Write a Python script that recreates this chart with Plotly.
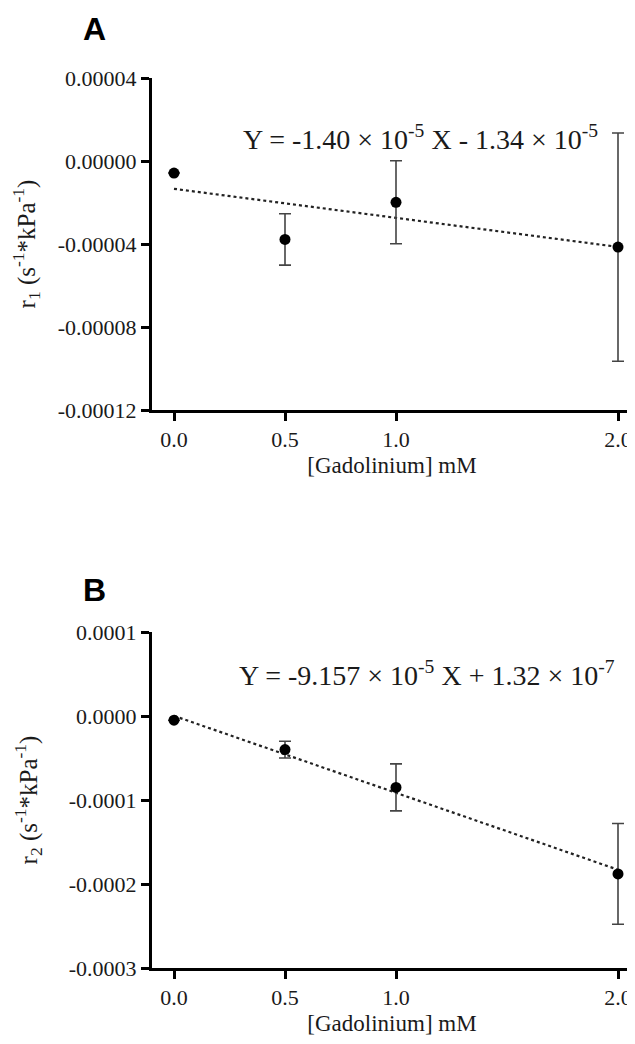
import plotly.graph_objects as go
from plotly.subplots import make_subplots

# ---- data ----
gd_conc = [0.0, 0.5, 1.0, 2.0]

r1_mean = [-0.0000058, -0.0000378, -0.0000199, -0.0000415]
r1_err = [0.0000000, 0.0000124, 0.0000200, 0.0000550]
r1_slope = -1.40e-5
r1_intercept = -1.34e-5

r2_mean = [-0.0000050, -0.0000400, -0.0000850, -0.0001880]
r2_err = [0.0000000, 0.0000100, 0.0000280, 0.0000600]
r2_slope = -9.157e-5
r2_intercept = 1.32e-7

x_tickvals = [0.0, 0.5, 1.0, 2.0]
x_ticktext = ["0.0", "0.5", "1.0", "2.0"]
yA_tickvals = [0.00004, 0.0, -0.00004, -0.00008, -0.00012]
yA_ticktext = ["0.00004", "0.00000", "-0.00004", "-0.00008", "-0.00012"]
yB_tickvals = [0.0001, 0.0, -0.0001, -0.0002, -0.0003]
yB_ticktext = ["0.0001", "0.0000", "-0.0001", "-0.0002", "-0.0003"]

serif = "Liberation Serif"
ink = "#1a1a1a"

fig = make_subplots(rows=2, cols=1)

OFF = 8  # default body margin of the html page
W, H = 635 - OFF, 1044 - 2 * OFF
PL, PR = 152, 632          # plot area left/right in page pixels
PT, PB = 78, 968           # plot stack top/bottom in page pixels
mt, mb = PT - OFF, H - (PB - OFF)
ph = H - mt - mb
pw = PR - PL


def yd(px):
    return (PB - px) / ph


def xd(px):
    return (px - PL) / pw


fit_x = [gd_conc[0], gd_conc[-1]]
panels = [
    (r1_mean, r1_err, r1_slope, r1_intercept, 1),
    (r2_mean, r2_err, r2_slope, r2_intercept, 2),
]
for mean, err, slope, icpt, row in panels:
    fig.add_trace(go.Scatter(
        x=fit_x, y=[slope * v + icpt for v in fit_x], mode="lines",
        line=dict(color="#222", width=2.2, dash="dot"), showlegend=False,
        hoverinfo="skip"), row=row, col=1)
    fig.add_trace(go.Scatter(
        x=gd_conc, y=mean, mode="markers",
        marker=dict(color="black", size=11),
        error_y=dict(type="data", array=err, visible=True, color="#444",
                     thickness=1.6, width=6),
        showlegend=False), row=row, col=1)

axis_common = dict(showline=True, linecolor="black", linewidth=3,
                   ticks="outside", tickwidth=3, ticklen=8, tickcolor="black",
                   showgrid=False, zeroline=False,
                   tickfont=dict(family=serif, size=22, color=ink))

xr = [(PL - 174) / 222, (PR - 174) / 222]
fig.update_xaxes(range=xr, tickvals=x_tickvals, ticktext=x_ticktext, **axis_common)
for r in (1, 2):
    fig.update_xaxes(title=dict(text="[Gadolinium] mM",
                                font=dict(family=serif, size=23, color=ink),
                                standoff=6), row=r, col=1)

fig.update_yaxes(range=[-0.00012, 0.00004], tickvals=yA_tickvals, ticktext=yA_ticktext,
                 title=dict(text="r<sub>1</sub> (s<sup>-1</sup>*kPa<sup>-1</sup>)",
                            font=dict(family=serif, size=25, color=ink), standoff=25),
                 row=1, col=1, **axis_common)
fig.update_yaxes(range=[-0.0003, 0.0001], tickvals=yB_tickvals, ticktext=yB_ticktext,
                 title=dict(text="r<sub>2</sub> (s<sup>-1</sup>*kPa<sup>-1</sup>)",
                            font=dict(family=serif, size=25, color=ink), standoff=25),
                 row=2, col=1, **axis_common)

fig.update_layout(
    width=W, height=H,
    margin=dict(l=PL - OFF, r=W - (PR - OFF), t=mt, b=mb),
    paper_bgcolor="white", plot_bgcolor="white",
    xaxis=dict(domain=[0, 1], anchor="y"),
    yaxis=dict(domain=[yd(410), 1.0]),
    xaxis2=dict(domain=[0, 1], anchor="y2"),
    yaxis2=dict(domain=[0, yd(632)]),
)

# equation annotations
fig.add_annotation(xref="paper", yref="paper", x=xd(420), y=yd(118),
                   text="Y = -1.40 × 10<sup>-5</sup> X - 1.34 × 10<sup>-5</sup>",
                   showarrow=False, font=dict(family=serif, size=28, color=ink))
fig.add_annotation(xref="paper", yref="paper", x=xd(427), y=yd(693),
                   text="Y = -9.157 × 10<sup>-5</sup> X + 1.32 × 10<sup>-7</sup>",
                   showarrow=False, font=dict(family=serif, size=28, color=ink))
# panel letters
fig.add_annotation(xref="paper", yref="paper", x=xd(81), y=yd(9),
                   text="<b>A</b>", showarrow=False,
                   font=dict(family="Liberation Sans", size=32, color="black"))
fig.add_annotation(xref="paper", yref="paper", x=xd(81), y=yd(590),
                   text="<b>B</b>", showarrow=False,
                   font=dict(family="Liberation Sans", size=32, color="black"))

fig.write_html("out.html")
